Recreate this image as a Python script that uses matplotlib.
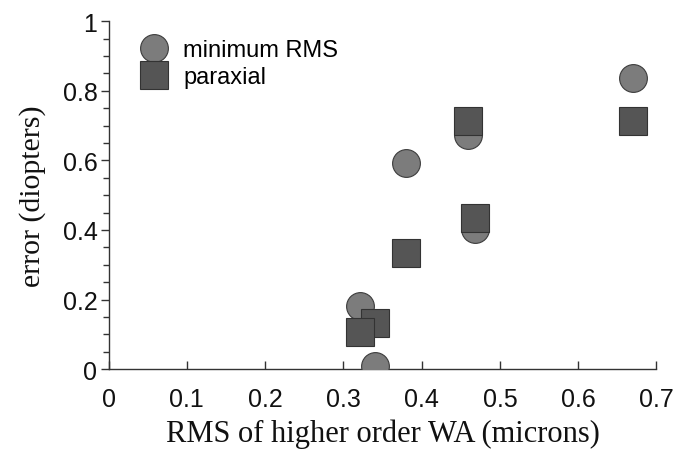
import matplotlib
matplotlib.use("Agg")
import matplotlib.pyplot as plt
from matplotlib.ticker import MultipleLocator

# RMS of higher order wave aberration (microns) vs. refraction error (diopters)
min_rms_x = [0.670, 0.459, 0.3795, 0.4685, 0.3215, 0.3405]
min_rms_y = [0.836, 0.672, 0.592, 0.402, 0.182, 0.010]

paraxial_x = [0.670, 0.459, 0.4685, 0.3795, 0.340, 0.321]
paraxial_y = [0.713, 0.713, 0.433, 0.335, 0.134, 0.108]

serif = ["Liberation Serif", "DejaVu Serif"]
sans = ["Liberation Sans", "DejaVu Sans"]

fig = plt.figure(figsize=(6.74, 4.52), dpi=100)
ax = fig.add_axes([0.161, 0.181, 0.813, 0.770])

ax.plot(min_rms_x, min_rms_y, linestyle="none", marker="o", markersize=20,
        markerfacecolor="#7c7c7c", markeredgecolor="#3c3c3c", markeredgewidth=0.8,
        label="minimum RMS", zorder=3)
ax.plot(paraxial_x, paraxial_y, linestyle="none", marker="s", markersize=20,
        markerfacecolor="#555555", markeredgecolor="#333333", markeredgewidth=0.8,
        label="paraxial", zorder=4)

ax.set_xlim(0, 0.7)
ax.set_ylim(0, 1)
ax.xaxis.set_major_locator(MultipleLocator(0.1))
ax.yaxis.set_major_locator(MultipleLocator(0.2))
ax.yaxis.set_minor_locator(MultipleLocator(0.05))
ax.xaxis.set_major_formatter(plt.FuncFormatter(lambda v, p: f"{v:g}"))
ax.yaxis.set_major_formatter(plt.FuncFormatter(lambda v, p: f"{v:g}"))

for s in ["top", "right"]:
    ax.spines[s].set_visible(False)
for s in ["left", "bottom"]:
    ax.spines[s].set_color("#333333")
    ax.spines[s].set_linewidth(1.0)

ax.tick_params(axis="x", which="major", direction="in", length=6, width=1,
               color="#333333", pad=13)
ax.tick_params(axis="y", which="major", direction="out", length=6, width=1,
               color="#333333", pad=2)
ax.tick_params(axis="y", which="minor", direction="out", length=4, width=1,
               color="#333333")
for lab in ax.get_xticklabels() + ax.get_yticklabels():
    lab.set_family(sans)
    lab.set_fontsize(18)
    lab.set_color("#111111")
# keep the last x label inside the canvas
ax.get_xticklabels()[-1].set_horizontalalignment("right")
ax.get_xticklabels()[-1].set_x(0.7)

ax.set_xlabel("RMS of higher order WA (microns)", family=serif, fontsize=22,
              labelpad=5, color="#111111")
ax.set_ylabel("error (diopters)", family=serif, fontsize=21.5, labelpad=12,
              color="#111111")

ax.legend(loc="upper left", bbox_to_anchor=(0.02, 0.995), frameon=False,
          prop={"family": sans, "size": 17}, handletextpad=0.5,
          labelspacing=0.2, borderpad=0.2, handlelength=1.5)

fig.savefig("out.png", dpi=100)
